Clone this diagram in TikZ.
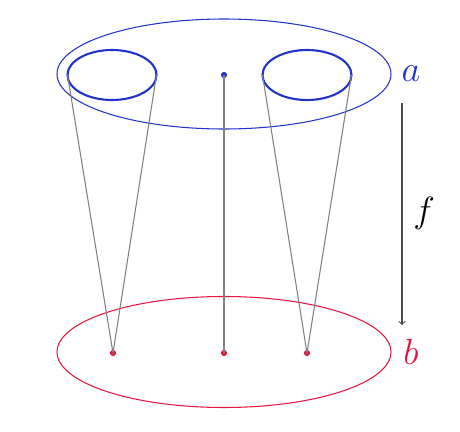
\documentclass[tikz,border=0pt]{standalone}
\usetikzlibrary{shapes.geometric}

\definecolor{colA}{HTML}{2233CC}
\definecolor{colB}{HTML}{E0163A}

\begin{document}
\begin{tikzpicture}[
    oval/.style={ellipse, draw, inner sep=0pt, outer sep=0pt},
    dot/.style={circle, fill, inner sep=0pt, outer sep=0pt, minimum size=3.5pt},
    fib/.style={black!50, line width=0.6pt},
    lab/.style={font=\huge},
]
\useasboundingbox (0,0) rectangle (9.2,8.62);

% --- top space a ---
\node[oval, colA, line width=0.6pt, minimum width=6.68cm, minimum height=2.2cm]
    (outA) at (4.48, 7.14) {};
\node[oval, colA, line width=1.2pt, minimum width=1.78cm, minimum height=1.0cm]
    (holeL) at (2.24, 7.12) {};
\node[oval, colA, line width=1.2pt, minimum width=1.78cm, minimum height=1.0cm]
    (holeR) at (6.14, 7.12) {};
\node[dot, colA] (ptA) at (4.48, 7.12) {};
\node[lab, colA] (la) at (8.22, 7.14) {$a$};

% --- bottom space b ---
\node[oval, colB, line width=0.6pt, minimum width=6.68cm, minimum height=2.22cm]
    (outB) at (4.48, 1.58) {};
\node[dot, colB] (pL) at (2.26, 1.56) {};
\node[dot, colB] (pM) at (4.48, 1.56) {};
\node[dot, colB] (pR) at (6.14, 1.56) {};
\node[lab, colB] (lb) at (8.22, 1.58) {$b$};

% fibres
\draw[fib] (holeL.west) -- (pL.center) -- (holeL.east);
\draw[fib] (holeR.west) -- (pR.center) -- (holeR.east);
\draw[fib] (ptA.center) -- (pM.center);

% the map f
\coordinate (fs) at (8.04, 6.56);
\coordinate (fe) at (8.04, 2.12);
\draw[->, black!70, line width=0.6pt] (fs) -- (fe);
\node[lab] (lf) at (8.48, 4.36) {$f$};

\end{tikzpicture}
\end{document}
